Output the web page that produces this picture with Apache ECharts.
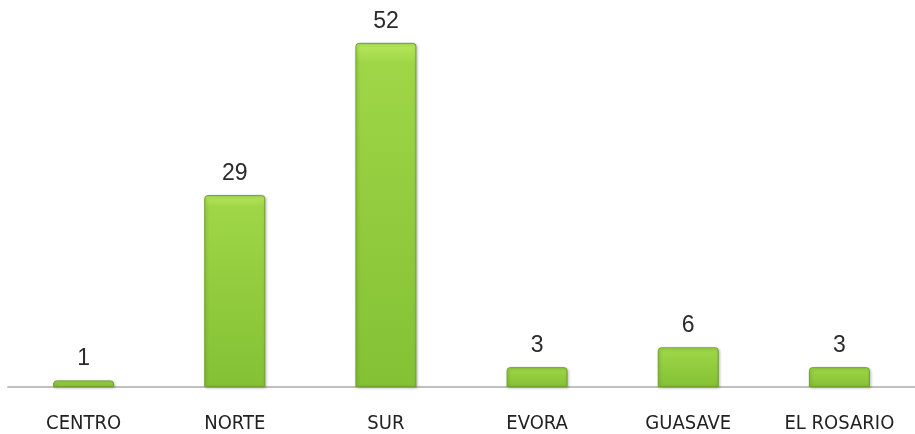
<!DOCTYPE html>
<html>
<head>
<meta charset="utf-8">
<style>
html,body{margin:0;padding:0;background:#fff;}
#chart{width:915px;height:434px;}
</style>
<script src="https://cdn.jsdelivr.net/npm/echarts@6/dist/echarts.min.js"></script>
</head>
<body>
<div id="chart"></div>
<script>
const categories = ['CENTRO', 'NORTE', 'SUR', 'EVORA', 'GUASAVE', 'EL ROSARIO'];
const values = [1, 29, 52, 3, 6, 3];

const chart = echarts.init(document.getElementById('chart'));
const barColor = {
  type: 'linear', x: 0, y: 0, x2: 0, y2: 1,
  colorStops: [
    {offset: 0, color: '#b8e85c'},
    {offset: 0.06, color: '#9ed646'},
    {offset: 1, color: '#84c135'}
  ]
};
chart.setOption({
  animation: false,
  grid: {left: 8, width: 911, top: 23, bottom: 45, containLabel: false},
  xAxis: {
    type: 'category',
    data: categories,
    axisLine: {lineStyle: {color: '#c0c0c0', width: 2}},
    axisTick: {show: false},
    axisLabel: {
      color: '#222',
      fontSize: 20,
      fontFamily: "'Liberation Sans Narrow','Arial Narrow','DejaVu Sans Condensed','Liberation Sans',sans-serif",
      margin: 27
    }
  },
  yAxis: {
    type: 'value', min: 0, max: 55,
    show: false,
    splitLine: {show: false}
  },
  series: [{
    type: 'bar',
    data: values,
    barWidth: 61,
    itemStyle: {
      color: barColor,
      borderColor: '#6fa32c',
      borderWidth: 1,
      borderRadius: [3, 3, 0, 0],
      shadowColor: 'rgba(0,0,0,0.25)',
      shadowBlur: 3,
      shadowOffsetX: 1,
      shadowOffsetY: 1
    },
    label: {
      show: true,
      position: 'top',
      distance: 10,
      color: '#2a2a2a',
      fontSize: 23,
      fontFamily: "'Liberation Sans',Arial,sans-serif"
    }
  }]
});
</script>
</body>
</html>
